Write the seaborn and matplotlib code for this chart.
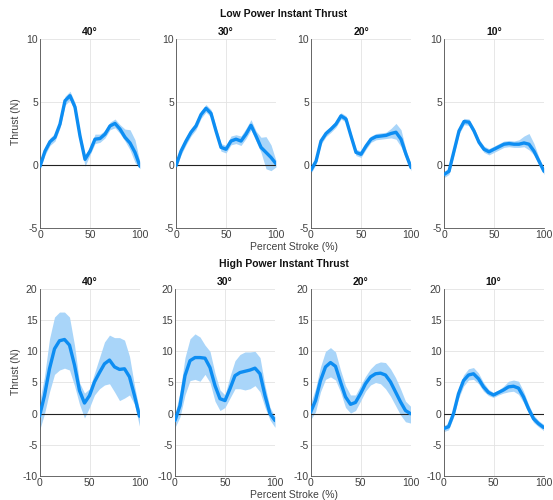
import numpy as np
import pandas as pd
import matplotlib
matplotlib.use("Agg")
import matplotlib.pyplot as plt
import seaborn as sns

# ---------------- data ----------------
pct = [0, 5, 10, 15, 20, 25, 30, 35, 40, 45, 50, 55, 60, 65, 70, 75, 80, 85, 90, 95, 100]
angles = ["40°", "30°", "20°", "10°"]

# Low power
low40_mean = [-0.1, 1.1, 1.85, 2.2, 3.25, 5.1, 5.5, 4.6, 2.3, 0.45, 1.1, 2.05, 2.1, 2.45, 3.1, 3.3, 2.85, 2.2, 1.75, 1.0, -0.1]
low40_hi = [0.2, 1.4, 2.15, 2.5, 3.55, 5.45, 5.85, 4.95, 2.6, 0.8, 1.4, 2.45, 2.45, 2.75, 3.4, 3.65, 3.2, 2.85, 2.8, 2.0, 0.2]
low40_lo = [-0.4, 0.8, 1.55, 1.9, 2.95, 4.75, 5.15, 4.25, 2.0, -0.1, 0.8, 1.7, 1.8, 2.15, 2.8, 2.95, 2.5, 1.9, 1.2, 0.2, -0.3]

low30_mean = [-0.05, 1.1, 1.9, 2.6, 3.1, 4.0, 4.5, 4.1, 2.7, 1.4, 1.25, 1.9, 2.05, 1.9, 2.45, 3.15, 2.3, 1.4, 1.0, 0.6, 0.1]
low30_hi = [0.25, 1.4, 2.2, 2.9, 3.4, 4.3, 4.8, 4.4, 3.0, 1.7, 1.55, 2.3, 2.4, 2.3, 2.9, 3.6, 2.7, 2.2, 2.25, 1.6, 0.35]
low30_lo = [-0.3, 0.8, 1.6, 2.3, 2.8, 3.7, 4.2, 3.8, 2.4, 1.1, 0.95, 1.6, 1.7, 1.55, 2.1, 2.8, 1.9, 1.0, -0.3, -0.45, -0.15]

low20_mean = [-0.4, 0.3, 1.9, 2.5, 2.85, 3.25, 3.9, 3.65, 2.3, 1.0, 0.85, 1.5, 2.05, 2.25, 2.3, 2.35, 2.5, 2.6, 2.05, 0.85, -0.2]
low20_hi = [-0.15, 0.55, 2.15, 2.75, 3.1, 3.5, 4.15, 3.9, 2.55, 1.25, 1.1, 1.75, 2.3, 2.5, 2.55, 2.6, 2.9, 3.3, 2.8, 1.2, 0.05]
low20_lo = [-0.65, 0.05, 1.65, 2.25, 2.6, 3.0, 3.65, 3.4, 2.05, 0.75, 0.6, 1.25, 1.8, 2.0, 2.05, 2.1, 2.15, 2.05, 1.45, 0.5, -0.45]

low10_mean = [-0.75, -0.5, 1.1, 2.7, 3.45, 3.4, 2.7, 1.8, 1.25, 1.05, 1.25, 1.45, 1.65, 1.7, 1.65, 1.65, 1.75, 1.65, 1.1, 0.3, -0.5]
low10_hi = [-0.5, -0.25, 1.35, 2.95, 3.7, 3.65, 2.95, 2.05, 1.5, 1.3, 1.5, 1.7, 1.9, 1.95, 1.9, 2.0, 2.3, 2.5, 1.7, 0.6, -0.25]
low10_lo = [-1.0, -0.75, 0.85, 2.45, 3.2, 3.15, 2.45, 1.55, 1.0, 0.8, 1.0, 1.2, 1.4, 1.45, 1.4, 1.4, 1.45, 1.2, 0.8, 0.05, -0.75]

# High power
high40_mean = [-0.4, 2.9, 7.2, 10.4, 11.7, 11.9, 11.0, 7.8, 3.7, 1.7, 2.9, 5.1, 6.6, 8.0, 8.6, 7.5, 7.1, 7.2, 5.9, 2.9, -0.4]
high40_hi = [1.8, 6.0, 12.0, 15.5, 16.3, 16.3, 15.5, 11.0, 5.0, 3.3, 4.0, 6.5, 9.0, 11.5, 12.6, 12.2, 12.2, 11.8, 9.2, 4.5, 0.5]
high40_lo = [-2.7, 0.0, 3.5, 6.3, 7.0, 7.3, 7.0, 4.5, 1.5, -0.7, 1.0, 3.0, 4.0, 4.6, 4.8, 3.5, 2.1, 2.5, 3.0, 1.5, -2.0]

high30_mean = [-1.1, 1.3, 6.1, 8.5, 9.0, 9.0, 8.9, 7.4, 4.5, 2.4, 2.1, 4.0, 6.1, 6.6, 6.8, 7.0, 7.3, 6.4, 2.9, 0.0, -1.1]
high30_hi = [-0.2, 3.5, 9.0, 12.0, 12.8, 12.3, 11.0, 10.0, 6.5, 3.8, 3.0, 6.0, 8.5, 9.5, 9.9, 9.9, 10.0, 9.0, 4.5, 1.0, -0.5]
high30_lo = [-2.2, -0.5, 3.0, 5.3, 5.5, 5.2, 6.3, 5.0, 2.0, 0.5, 1.0, 2.5, 4.0, 4.0, 3.8, 4.0, 4.5, 3.5, 1.0, -1.0, -2.2]

high20_mean = [0.2, 2.1, 5.3, 7.5, 8.2, 7.6, 5.1, 2.7, 1.5, 1.8, 3.2, 4.8, 5.9, 6.4, 6.5, 6.2, 5.1, 3.5, 1.9, 0.5, 0.0]
high20_hi = [1.6, 4.0, 7.5, 10.0, 10.6, 9.9, 7.0, 4.5, 3.0, 3.0, 4.5, 6.0, 7.2, 8.0, 8.3, 8.2, 7.2, 5.8, 4.0, 2.0, 1.2]
high20_lo = [-1.0, 0.3, 3.5, 5.5, 5.9, 5.4, 3.5, 1.0, 0.1, 0.5, 2.0, 3.6, 4.6, 5.0, 4.8, 4.0, 2.8, 1.3, -0.2, -1.3, -1.5]

high10_mean = [-2.4, -2.1, 0.0, 3.2, 5.3, 6.2, 6.4, 5.6, 4.3, 3.4, 3.0, 3.4, 3.8, 4.3, 4.4, 4.1, 2.7, 0.8, -0.8, -1.6, -2.2]
high10_hi = [-1.9, -1.6, 0.6, 4.0, 6.2, 7.2, 7.4, 6.5, 5.0, 3.9, 3.4, 3.8, 4.4, 5.2, 5.4, 5.2, 3.6, 1.5, -0.2, -1.1, -1.7]
high10_lo = [-2.9, -2.6, -0.6, 2.4, 4.4, 5.4, 5.5, 4.8, 3.6, 2.9, 2.6, 3.0, 3.3, 3.5, 3.6, 3.1, 1.8, 0.1, -1.4, -2.1, -2.7]

low_sets = [(low40_mean, low40_lo, low40_hi), (low30_mean, low30_lo, low30_hi),
            (low20_mean, low20_lo, low20_hi), (low10_mean, low10_lo, low10_hi)]
high_sets = [(high40_mean, high40_lo, high40_hi), (high30_mean, high30_lo, high30_hi),
             (high20_mean, high20_lo, high20_hi), (high10_mean, high10_lo, high10_hi)]

low_yticks = [-5, 0, 5, 10]
high_yticks = [-10, -5, 0, 5, 10, 15, 20]
xticks = [0, 50, 100]

# ---------------- style ----------------
sns.set_style("white")
plt.rcParams["font.family"] = ["Liberation Sans", "DejaVu Sans"]
plt.rcParams["axes.unicode_minus"] = False

LINE = "#0d8df2"
BAND = "#a9d5f9"
TXT = "#404040"

W, H = 553, 500
fig = plt.figure(figsize=(W / 100, H / 100), dpi=100)

top_lefts = [40, 176, 311, 444]
bot_lefts = [39.5, 175, 310.5, 443.5]


def make_panel(left, top_px, bottom_px, title, data, yticks):
    ax = fig.add_axes([left / W, 1 - bottom_px / H, 100 / W, (bottom_px - top_px) / H])
    mean, lo, hi = data
    df = pd.DataFrame({"pct": pct, "mean": mean, "lo": lo, "hi": hi})
    ax.fill_between(df["pct"], df["lo"], df["hi"], color=BAND, lw=0, zorder=2)
    ax.axhline(0, color="#222222", lw=0.8, zorder=3)
    sns.lineplot(data=df, x="pct", y="mean", ax=ax, color=LINE, lw=2.4, zorder=4,
                 solid_joinstyle="round", solid_capstyle="round")
    ax.set_xlim(0, 100)
    ax.set_ylim(yticks[0], yticks[-1])
    ax.set_xticks(xticks)
    ax.set_yticks(yticks)
    ax.set_xlabel("")
    ax.set_ylabel("")
    ax.grid(True, color="#e3e3e3", lw=0.6, zorder=0)
    ax.set_axisbelow(True)
    for s in ["top", "right"]:
        ax.spines[s].set_visible(False)
    for s in ["left", "bottom"]:
        ax.spines[s].set_color("#505050")
        ax.spines[s].set_linewidth(0.6)
    ax.tick_params(axis="both", direction="in", length=2, width=0.5, colors="#505050",
                   labelsize=7.5, labelcolor=TXT, pad=1.5)
    ax.set_title(title, fontsize=7.5, fontweight="bold", pad=3, color="#111111")
    return ax


for i in range(4):
    make_panel(top_lefts[i], 39, 228, angles[i], low_sets[i], low_yticks)
    make_panel(bot_lefts[i], 289, 476, angles[i], high_sets[i], high_yticks)

fig.text(284 / W, 1 - 14 / H, "Low Power Instant Thrust", ha="center", va="center",
         fontsize=7.5, fontweight="bold", color="#111111")
fig.text(284 / W, 1 - 264 / H, "High Power Instant Thrust", ha="center", va="center",
         fontsize=7.5, fontweight="bold", color="#111111")
fig.text(294 / W, 1 - 246.5 / H, "Percent Stroke (%)", ha="center", va="center",
         fontsize=7.5, color=TXT)
fig.text(294 / W, 1 - 494.5 / H, "Percent Stroke (%)", ha="center", va="center",
         fontsize=7.5, color=TXT)
fig.text(16 / W, 1 - 122 / H, "Thrust (N)", ha="center", va="center", rotation=90,
         fontsize=7.5, color=TXT)
fig.text(16 / W, 1 - 372 / H, "Thrust (N)", ha="center", va="center", rotation=90,
         fontsize=7.5, color=TXT)

fig.savefig("out.png", dpi=100)
